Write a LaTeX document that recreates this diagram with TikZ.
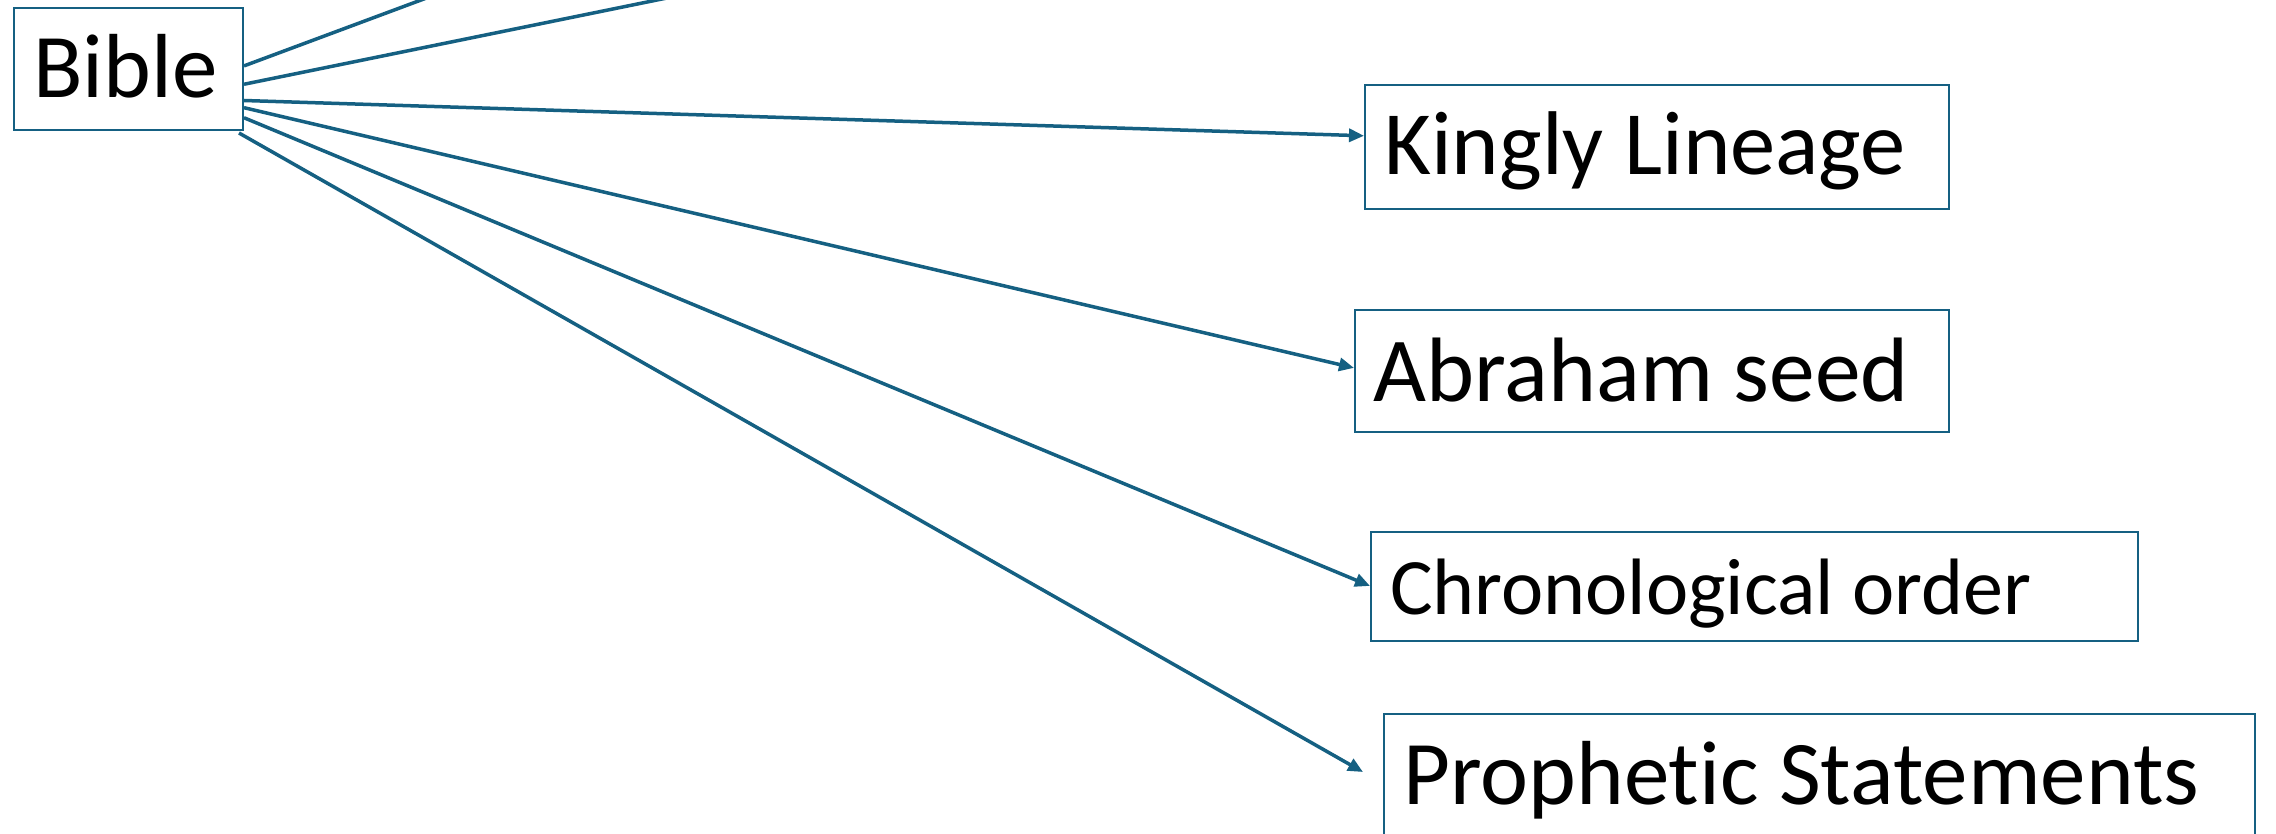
\documentclass[tikz,border=0pt]{standalone}
\usepackage{fontspec}
\setmainfont{Carlito}[Ligatures=NoCommon]
\usetikzlibrary{arrows.meta,calc}
\definecolor{acc}{HTML}{156082}
\tikzset{
  box/.style={draw=acc, line width=2pt, inner sep=0pt, anchor=north west},
  lbl/.style={inner sep=0pt, anchor=base west, text=black},
  conn/.style={draw=acc, line width=3.5pt},
  arr/.style={conn, -{Triangle[length=15pt,width=13pt]}},
}
\begin{document}
\begin{tikzpicture}[x=1pt,y=-1pt]
\useasboundingbox (0,0) rectangle (2276,833);
\fill[white] (0,0) rectangle (2276,833);
\clip (0,0) rectangle (2276,833);
% boxes
\node[box, minimum width=229pt, minimum height=122pt] (b) at (13,7) {};
\node[box, minimum width=584pt, minimum height=124pt] (k) at (1364,84) {};
\node[box, minimum width=594pt, minimum height=122pt] (a) at (1354,309) {};
\node[box, minimum width=767pt, minimum height=109pt] (c) at (2137-767,531) {};
\node[box, minimum width=871pt, minimum height=140pt] (p) at (1383,713) {};
% labels
\node[lbl, font=\fontsize{91}{100}\selectfont] (bt) at (33,97) {Bible};
\node[lbl, font=\fontsize{90.5}{100}\selectfont] (kt) at (1384,174) {Kingly Lineage};
\node[lbl, font=\fontsize{91.5}{100}\selectfont] (at) at (1373,401) {Abraham seed};
\node[lbl, font=\fontsize{80}{90}\selectfont] (ct) at (1390,614) {Chronological order};
\node[lbl, font=\fontsize{91}{100}\selectfont] (pt) at (1403,804) {Prophetic Statements};
% free ends
\coordinate (t1) at (448,-10);
\coordinate (t2) at (706,-10);
\coordinate (pe) at (1363,772);
% connectors
\draw[conn] ($(b.north east)!0.475!(b.south east)$) -- (t1);
\draw[conn] ($(b.north east)!0.623!(b.south east)$) -- (t2);
\draw[arr] ($(b.north east)!0.754!(b.south east)$) -- ($(k.north west)!0.411!(k.south west)$);
\draw[arr] ($(b.north east)!0.812!(b.south east)$) -- ($(a.north west)!0.475!(a.south west)$);
\draw[arr] ($(b.north east)!0.893!(b.south east)$) -- ($(c.north west)!0.495!(c.south west)$);
\draw[arr] ($(b.south east)+(-5,2)$) -- (pe);
\end{tikzpicture}
\end{document}
